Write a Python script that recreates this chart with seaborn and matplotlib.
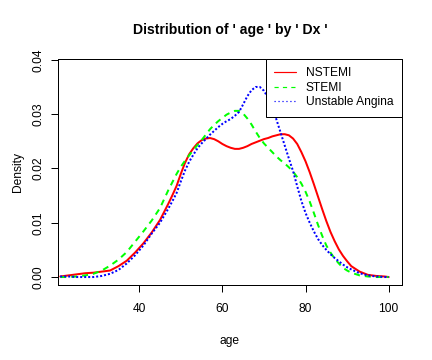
import numpy as np
import pandas as pd
import matplotlib
matplotlib.use("Agg")
import matplotlib.pyplot as plt
import seaborn as sns
from matplotlib.lines import Line2D

# ---- data ----
age = [21, 23, 25, 27, 29, 31, 33, 35, 37, 39, 41, 43, 45, 47,
       48, 49, 50, 51, 52, 53, 54, 55, 56, 57, 58, 59, 60, 61, 62, 63, 64, 65, 66, 67, 68, 69,
       70, 71, 72, 73, 74, 75, 76, 77, 78, 79, 80, 81, 82, 83, 84, 85, 86, 87, 88, 89, 90,
       91, 93, 95, 97, 99, 100]
nstemi = [0.0001, 0.0003, 0.0005, 0.0007, 0.0008, 0.0010, 0.0012, 0.0020, 0.0030, 0.0045,
          0.0062, 0.0082, 0.0105, 0.0135,
          0.0151, 0.0168, 0.0190, 0.0210, 0.0226, 0.0237, 0.0246, 0.0252, 0.0255, 0.0256,
          0.0254, 0.0250, 0.0245, 0.0241, 0.0238, 0.0236, 0.0236, 0.0238, 0.0241, 0.0245,
          0.0248, 0.0251, 0.0254, 0.0256, 0.0259, 0.0261, 0.0263, 0.0263, 0.0261, 0.0255,
          0.0245, 0.0230, 0.0213, 0.0193, 0.0171, 0.0148, 0.0125, 0.0103, 0.0083, 0.0066,
          0.0051, 0.0039, 0.0029,
          0.0020, 0.0010, 0.0004, 0.0002, 0.0001, 0.0000]
stemi = [0.0000, 0.0000, 0.0001, 0.0003, 0.0006, 0.0012, 0.0021, 0.0032, 0.0046, 0.0065,
         0.0084, 0.0104, 0.0127, 0.0160,
         0.0175, 0.0190, 0.0203, 0.0214, 0.0224, 0.0234, 0.0243, 0.0252, 0.0262, 0.0272,
         0.0280, 0.0287, 0.0293, 0.0299, 0.0303, 0.0306, 0.0306, 0.0301, 0.0292, 0.0281,
         0.0268, 0.0256, 0.0246, 0.0238, 0.0230, 0.0222, 0.0215, 0.0209, 0.0202, 0.0194,
         0.0184, 0.0172, 0.0157, 0.0139, 0.0118, 0.0096, 0.0076, 0.0058, 0.0045, 0.0034,
         0.0025, 0.0017, 0.0012,
         0.0008, 0.0003, 0.0001, 0.0000, 0.0000, 0.0000]
unstable = [0.0001, 0.0001, 0.0000, 0.0000, 0.0000, 0.0002, 0.0006, 0.0013, 0.0025, 0.0040,
            0.0058, 0.0080, 0.0100, 0.0126,
            0.0140, 0.0155, 0.0176, 0.0196, 0.0212, 0.0225, 0.0237, 0.0246, 0.0254, 0.0262,
            0.0269, 0.0276, 0.0282, 0.0287, 0.0291, 0.0297, 0.0304, 0.0318, 0.0333, 0.0344,
            0.0350, 0.0350, 0.0343, 0.0330, 0.0312, 0.0290, 0.0266, 0.0242, 0.0218, 0.0195,
            0.0167, 0.0140, 0.0118, 0.0100, 0.0084, 0.0070, 0.0059, 0.0050, 0.0042, 0.0035,
            0.0029, 0.0023, 0.0018,
            0.0014, 0.0007, 0.0003, 0.0001, 0.0000, 0.0000]
groups = ["NSTEMI", "STEMI", "Unstable Angina"]
yticks = [0.00, 0.01, 0.02, 0.03, 0.04]
xticks = [40, 60, 80, 100]

sns.set_style("ticks")
plt.rcParams['font.family'] = ['Liberation Sans', 'DejaVu Sans']
for k in ["text.color", "axes.labelcolor", "xtick.color", "ytick.color", "axes.edgecolor"]:
    plt.rcParams[k] = "black"

fig = plt.figure(figsize=(6, 5), dpi=72)
ax = fig.add_axes([0.1336, 0.2083, 0.7970, 0.6278])

colors = ["#FF0000", "#00FF00", "#0000FF"]
styles = ["-", (0, (3, 2.5)), (0, (1, 1))]
for vals, c, ls in zip([nstemi, stemi, unstable], colors, styles):
    df = pd.DataFrame({"age": age, "Density": vals})
    sns.lineplot(data=df, x="age", y="Density", ax=ax, color=c, linewidth=2,
                 linestyle=ls, sort=False, legend=False)

ax.set_xlim(20.4, 103.2)
ax.set_ylim(-0.00147, 0.04015)
ax.set_xticks(xticks)
ax.set_xticklabels([str(t) for t in xticks])
ax.set_yticks(yticks)
ax.set_yticklabels([f"{t:.2f}" for t in yticks], rotation=90, va="center")
ax.tick_params(axis="both", length=7, width=1, color="black", labelsize=12)
ax.tick_params(axis="x", pad=11)
ax.tick_params(axis="y", pad=6)
for s in ax.spines.values():
    s.set_visible(True)
    s.set_color("black")
    s.set_linewidth(1)

ax.set_xlabel("age", fontsize=12, labelpad=20)
ax.set_ylabel("Density", fontsize=12, labelpad=9)
fig.suptitle("Distribution of ' age ' by ' Dx '", fontsize=14, fontweight="bold",
             x=0.532, y=0.935)

handles = [Line2D([], [], color=c, lw=1.2, linestyle=ls) for c, ls in
           zip(colors, ["-", (0, (3.5, 3.5)), (0, (1, 2.3))])]
leg = ax.legend(handles, groups, loc="upper right", bbox_to_anchor=(1, 1),
                borderaxespad=0, fancybox=False, framealpha=1, edgecolor="black",
                fontsize=12, handlelength=1.83, handletextpad=0.83, labelspacing=0.2,
                borderpad=0.7)
leg.get_frame().set_linewidth(1)

fig.savefig("out.png", dpi=72)
